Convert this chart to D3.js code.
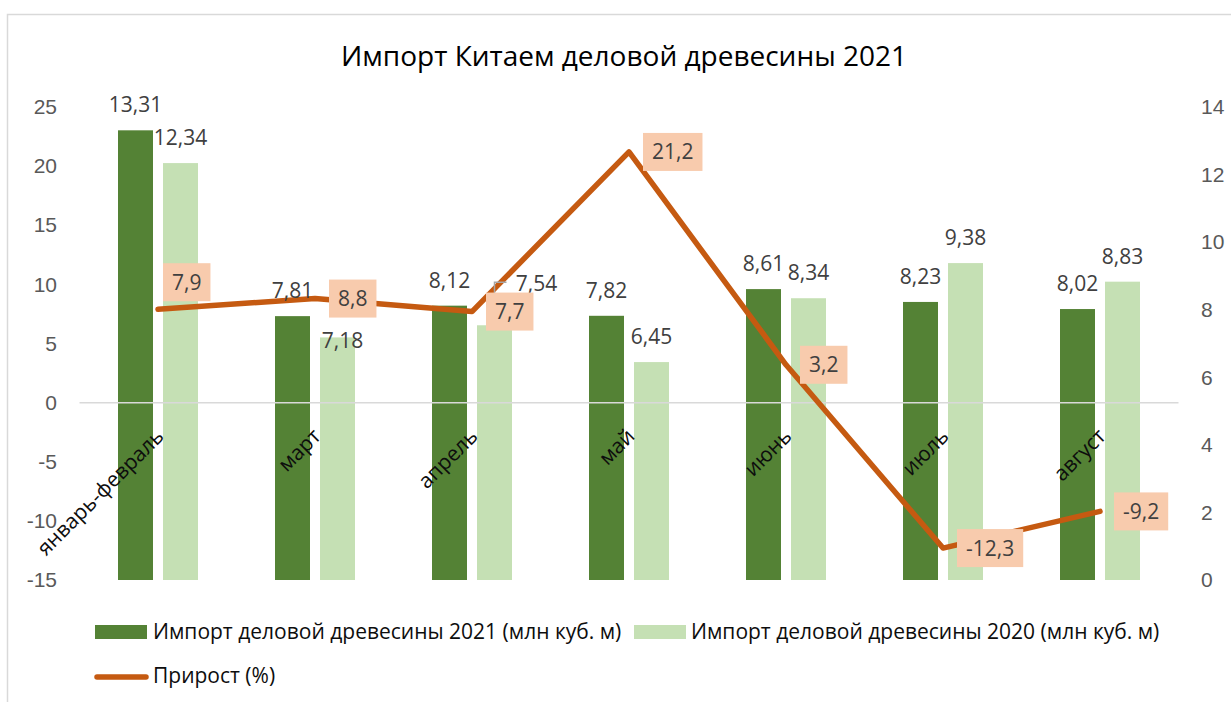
<!DOCTYPE html>
<html>
<head>
<meta charset="utf-8">
<script src="https://cdn.jsdelivr.net/npm/d3@7"></script>
<style>
  html, body { margin: 0; padding: 0; background: #fff; }
  svg { display: block; font-family: "Open Sans", "Noto Sans", sans-serif; }
</style>
</head>
<body>
<svg id="chart" width="1231" height="702"></svg>
<script>
// chart data
var title = "Импорт Китаем деловой древесины 2021";
var categories = ["январь-февраль", "март", "апрель", "май", "июнь", "июль", "август"];
var import2021 = [13.31, 7.81, 8.12, 7.82, 8.61, 8.23, 8.02];
var import2020 = [12.34, 7.18, 7.54, 6.45, 8.34, 9.38, 8.83];
var growth = [7.9, 8.8, 7.7, 21.2, 3.2, -12.3, -9.2];
var leftTicks = [-15, -10, -5, 0, 5, 10, 15, 20, 25];
var rightTicks = [0, 2, 4, 6, 8, 10, 12, 14];
var seriesNames = [
  "Импорт деловой древесины 2021 (млн куб. м)",
  "Импорт деловой древесины 2020 (млн куб. м)",
  "Прирост (%)"
];

(function(){
  var svg = d3.select("#chart");
  var colDark = "#548235", colLight = "#C5E0B4", colLine = "#C55A11", colBox = "#F8CBAD";
  var fmt = function(v) { return String(v).replace(".", ","); };

  // plot area
  var left = 79.5, right = 1178.5, top = 107, bottom = 580;

  // chart frame (only top and left visible in the crop)
  svg.append("rect")
    .attr("x", 7.5).attr("y", 14.5).attr("width", 1400).attr("height", 900)
    .attr("fill", "#fff").attr("stroke", "#d9d9d9").attr("stroke-width", 1.5);

  var x0 = d3.scaleBand().domain(categories).range([left, right]);
  var x1 = d3.scaleBand().domain(["2021", "2020"]).range([-40, 40]).paddingInner(10 / 45);
  var yL = d3.scaleLinear().domain([-15, 25]).range([bottom, top]);
  var yR = d3.scaleLinear().domain([0, 14]).range([bottom, top]);
  var cx = function(c) { return x0(c) + x0.bandwidth() / 2; };

  svg.append("text")
    .attr("x", 624).attr("y", 66)
    .attr("text-anchor", "middle")
    .attr("font-size", 28).attr("fill", "#000")
    .text(title);

  // axes
  var axL = svg.append("g").attr("transform", "translate(" + left + ",0)")
    .call(d3.axisLeft(yL).tickValues(leftTicks).tickSize(0).tickPadding(22.5).tickFormat(function(d){ return String(d); }));
  var axR = svg.append("g").attr("transform", "translate(" + right + ",0)")
    .call(d3.axisRight(yR).tickValues(rightTicks).tickSize(0).tickPadding(22.5).tickFormat(function(d){ return String(d); }));
  [axL, axR].forEach(function(ax){
    ax.select(".domain").remove();
    ax.selectAll("text").attr("font-size", 21).attr("fill", "#595959").attr("font-family", null);
  });

  // bars
  var barData = [];
  categories.forEach(function(c, i) {
    barData.push({ c: c, s: "2021", v: import2021[i], i: i });
    barData.push({ c: c, s: "2020", v: import2020[i], i: i });
  });
  svg.append("g").selectAll("rect").data(barData).enter().append("rect")
    .attr("x", function(d){ return cx(d.c) + x1(d.s); })
    .attr("width", x1.bandwidth())
    .attr("y", function(d){ return yR(d.v); })
    .attr("height", function(d){ return yR(0) - yR(d.v); })
    .attr("fill", function(d){ return d.s === "2021" ? colDark : colLight; });

  // category axis line at zero of the left axis
  svg.append("line")
    .attr("x1", left).attr("x2", right)
    .attr("y1", yL(0)).attr("y2", yL(0))
    .attr("stroke", "#d9d9d9").attr("stroke-width", 1.5);

  svg.append("g").selectAll("text").data(categories).enter().append("text")
    .attr("transform", function(c){ return "translate(" + (cx(c) + 7) + "," + (yL(0) + 35) + ") rotate(-45)"; })
    .attr("text-anchor", "end")
    .attr("font-size", 21).attr("fill", "#0d0d0d")
    .text(function(c){ return c; });

  // growth line
  var line = d3.line()
    .x(function(d, i){ return cx(categories[i]); })
    .y(function(d){ return yL(d); });
  svg.append("path").datum(growth)
    .attr("d", line)
    .attr("fill", "none").attr("stroke", colLine).attr("stroke-width", 5.5)
    .attr("stroke-linejoin", "round").attr("stroke-linecap", "round");

  // bar value labels; some were dragged aside in the original (one with a leader line)
  var barNudge = { "2020-1": [5, 29, false], "2020-2": [42, -16, true] };
  var gBL = svg.append("g");
  barData.forEach(function(d) {
    var bx = cx(d.c) + x1(d.s) + x1.bandwidth() / 2;
    var by = yR(d.v) - 18;
    var n = barNudge[d.s + "-" + d.i];
    if (n) {
      if (n[2]) {
        gBL.append("path")
          .attr("d", "M" + bx + "," + yR(d.v) + "V" + (by + n[1] - 9) + "H" + (bx + 12))
          .attr("fill", "none").attr("stroke", "#a6a6a6").attr("stroke-width", 1.5);
      }
      bx += n[0]; by += n[1];
    }
    gBL.append("text")
      .attr("x", bx).attr("y", by)
      .attr("text-anchor", "middle")
      .attr("font-size", 21).attr("fill", "#404040")
      .text(fmt(d.v));
  });

  // growth labels in boxes, right of the point
  var lineNudge = { 0: [-9, -27] };
  var gLL = svg.append("g");
  growth.forEach(function(v, i) {
    var px = cx(categories[i]), py = yL(v);
    var n = lineNudge[i] || [0, 0];
    var g = gLL.append("g");
    var r = g.append("rect").attr("fill", colBox);
    var t = g.append("text")
      .attr("text-anchor", "middle")
      .attr("font-size", 21).attr("fill", "#404040")
      .text(fmt(v));
    var w = t.node().getComputedTextLength() + 18;
    var bx = px + 14 + n[0], byc = py + n[1];
    r.attr("x", bx).attr("y", byc - 19).attr("width", w).attr("height", 38);
    t.attr("x", bx + w / 2).attr("y", byc + 7.5);
  });

  // legend
  var lg = svg.append("g").attr("font-size", 21).attr("fill", "#0d0d0d");
  lg.append("rect").attr("x", 95).attr("y", 625).attr("width", 52).attr("height", 14).attr("fill", colDark);
  lg.append("text").attr("x", 153).attr("y", 639).text(seriesNames[0]);
  lg.append("rect").attr("x", 634).attr("y", 625).attr("width", 52).attr("height", 14).attr("fill", colLight);
  lg.append("text").attr("x", 691).attr("y", 639).text(seriesNames[1]);
  lg.append("line").attr("x1", 97).attr("x2", 146).attr("y1", 677).attr("y2", 677)
    .attr("stroke", colLine).attr("stroke-width", 5.5).attr("stroke-linecap", "round");
  lg.append("text").attr("x", 153).attr("y", 683).text(seriesNames[2]);
})();
</script>
</body>
</html>
